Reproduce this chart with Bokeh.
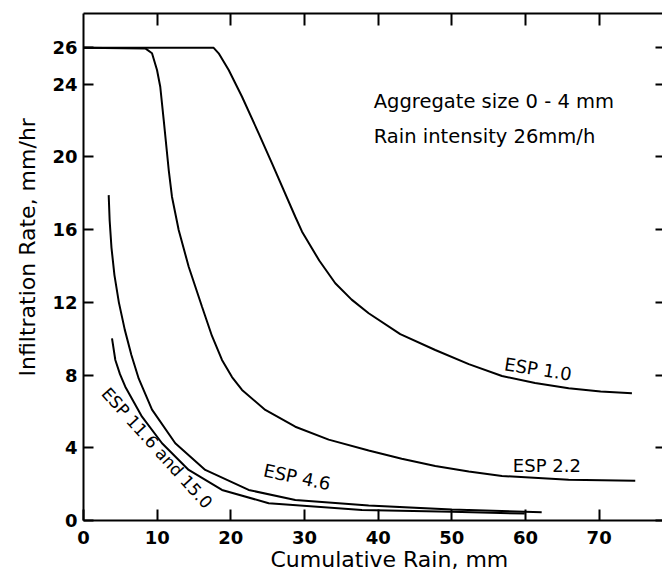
import math
from bokeh.plotting import figure
from bokeh.models import Range1d, FixedTicker, LinearAxis, Label, Title
from bokeh.embed import file_html
from bokeh.resources import INLINE

# ---- data ----
x_ticks = [0, 10, 20, 30, 40, 50, 60, 70]
y_ticks = [0, 4, 8, 12, 16, 20, 24, 26]

esp_1_0_x = [0, 17.67, 18.35, 19.71, 21.52, 23.78, 25.59, 28.75, 29.67, 32.0, 34.18, 36.4, 38.71, 43.0, 47.75, 52.3, 56.81, 61.3, 65.86, 70.2, 74.45]
esp_1_0_y = [26, 26, 25.7, 24.78, 23.31, 21.3, 19.65, 16.71, 15.89, 14.3, 13.05, 12.15, 11.4, 10.25, 9.38, 8.6, 7.95, 7.56, 7.27, 7.1, 7.0]

esp_2_2_x = [0, 8.39, 9.30, 9.98, 10.42, 10.89, 11.57, 12.01, 12.92, 14.28, 16.09, 17.44, 18.8, 20.16, 21.52, 24.68, 28.75, 33.28, 38.71, 43.2, 47.75, 52.3, 56.81, 65.86, 74.9]
esp_2_2_y = [26, 25.97, 25.70, 24.78, 23.86, 22.03, 19.28, 17.81, 15.98, 13.96, 11.76, 10.15, 8.83, 7.89, 7.18, 6.08, 5.16, 4.45, 3.85, 3.4, 3.0, 2.7, 2.45, 2.24, 2.18]

esp_4_6_x = [3.42, 3.55, 3.8, 4.2, 4.8, 5.6, 6.5, 7.5, 9.3, 12.46, 16.53, 22.42, 28.75, 38.71, 50.0, 62.2]
esp_4_6_y = [17.9, 16.5, 15.0, 13.5, 12.0, 10.5, 9.1, 7.8, 6.1, 4.25, 2.78, 1.68, 1.13, 0.82, 0.6, 0.45]

esp_11_6_x = [3.87, 4.32, 4.95, 5.67, 7.94, 10.66, 14.28, 18.8, 25.14, 37.8, 50.0, 59.9]
esp_11_6_y = [10.02, 8.83, 8.05, 7.36, 5.71, 4.25, 2.78, 1.68, 0.95, 0.58, 0.48, 0.38]

FONT = "DejaVu Sans"

p = figure(width=662, height=576, output_backend="svg", toolbar_location=None,
           x_range=Range1d(0, 78.6), y_range=Range1d(0, 27.89),
           min_border_left=83, min_border_top=13, min_border_right=0, min_border_bottom=56)
p.outline_line_color = None
p.xgrid.visible = False
p.ygrid.visible = False
p.background_fill_color = "white"
p.border_fill_color = "white"

for xs, ys in [(esp_1_0_x, esp_1_0_y), (esp_2_2_x, esp_2_2_y),
               (esp_4_6_x, esp_4_6_y), (esp_11_6_x, esp_11_6_y)]:
    p.line(xs, ys, line_color="black", line_width=2)

def style(ax, ticks, tick_in, labels=True):
    ax.ticker = FixedTicker(ticks=ticks)
    ax.major_tick_in = tick_in
    ax.major_tick_out = 0
    ax.minor_tick_line_color = None
    ax.axis_line_width = 2
    ax.axis_line_color = "black"
    ax.major_tick_line_width = 2
    ax.major_tick_line_color = "black"
    if labels:
        ax.major_label_text_font = FONT
        ax.major_label_text_font_size = "18px"
        ax.major_label_text_font_style = "bold"
        ax.major_label_text_color = "black"
    else:
        ax.major_label_overrides = {t: "" for t in ticks}
        ax.major_label_text_font_size = "1px"
        ax.major_label_standoff = 0

style(p.xaxis[0], x_ticks, 11)
p.xaxis[0].major_label_standoff = 10
style(p.yaxis[0], y_ticks, 10)
p.yaxis[0].major_label_standoff = 6

top = LinearAxis()
style(top, x_ticks[1:], 12, labels=False)
p.add_layout(top, "above")

right = LinearAxis()
style(right, y_ticks, 7, labels=False)
right.axis_line_color = None
p.add_layout(right, "right")

p.add_layout(Title(text="Cumulative Rain, mm", align="left", offset=187, standoff=-3,
                   text_font=FONT, text_font_size="22px", text_font_style="normal",
                   text_color="black"), "below")
p.add_layout(Title(text="Infiltration Rate, mm/hr", align="left", offset=144, standoff=20,
                   text_font=FONT, text_font_size="22px", text_font_style="normal",
                   text_color="black"), "left")

def note(x, y, text, size, angle=0, align="center", baseline="middle"):
    p.add_layout(Label(x=x, y=y, text=text, text_font=FONT, text_font_size=size,
                       text_color="black", angle=angle, angle_units="deg",
                       text_align=align, text_baseline=baseline))

note(39.4, 23.04, "Aggregate size 0 - 4 mm", "19.5px", align="left", baseline="alphabetic")
note(39.4, 21.15, "Rain intensity  26mm/h", "19.5px", align="left", baseline="alphabetic")
note(61.7, 8.33, "ESP 1.0", "18px", angle=-9)
note(62.9, 3.05, "ESP 2.2", "18px")
note(29.0, 2.39, "ESP 4.6", "18px", angle=-12)
note(9.98, 3.99, "ESP 11.6 and 15.0", "17px", angle=-48)

open("out.html", "w").write(file_html(p, INLINE))
